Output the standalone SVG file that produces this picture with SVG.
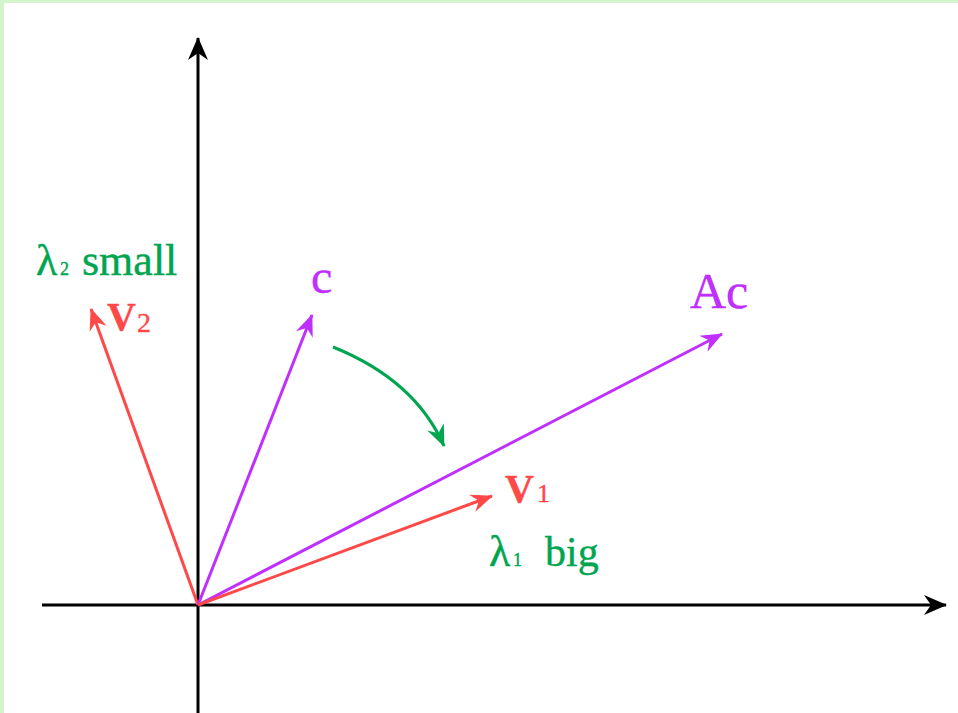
<svg xmlns="http://www.w3.org/2000/svg" width="958" height="713" viewBox="0 0 958 713">
<style>
.ax{stroke:#000;stroke-width:3;fill:none}
.red{stroke:#ff4848;stroke-width:3;fill:none}
.pur{stroke:#bf30ff;stroke-width:3;fill:none}
.grn{stroke:#00a550;stroke-width:3;fill:none}
.t{font-family:"Liberation Serif","Times New Roman",serif;stroke-width:0.4}
</style>
<defs>
<marker id="mk" viewBox="-24 -11 26 22" refX="0" refY="0" markerWidth="26" markerHeight="22" markerUnits="userSpaceOnUse" orient="auto"><path d="M1,0 L-22,-10 L-15,0 L-22,10 Z" fill="#000"/></marker>
<marker id="mr" viewBox="-24 -11 26 22" refX="0" refY="0" markerWidth="26" markerHeight="22" markerUnits="userSpaceOnUse" orient="auto"><path d="M1,0 L-21,-9 L-14,0 L-21,9 Z" fill="#ff4848"/></marker>
<marker id="mp" viewBox="-24 -11 26 22" refX="0" refY="0" markerWidth="26" markerHeight="22" markerUnits="userSpaceOnUse" orient="auto"><path d="M1,0 L-21,-9 L-14,0 L-21,9 Z" fill="#bf30ff"/></marker>
<marker id="mg" viewBox="-24 -11 26 22" refX="0" refY="0" markerWidth="26" markerHeight="22" markerUnits="userSpaceOnUse" orient="auto"><path d="M1,0 L-21,-9 L-14,0 L-21,9 Z" fill="#00a550"/></marker>
</defs>
<rect x="0" y="0" width="958" height="713" fill="#d4f4cc"/>
<rect x="4" y="3" width="954" height="710" fill="#fff"/>
<g id="connectors">
<line class="ax" x1="42" y1="605" x2="946" y2="605" marker-end="url(#mk)"/>
<line class="ax" x1="198" y1="713" x2="198" y2="38" marker-end="url(#mk)"/>
<line class="red" x1="198" y1="605" x2="91" y2="309" marker-end="url(#mr)"/>
<line class="pur" x1="198" y1="605" x2="312" y2="315" marker-end="url(#mp)"/>
<line class="pur" x1="198" y1="605" x2="722" y2="334" marker-end="url(#mp)"/>
<line class="red" x1="198" y1="605" x2="492" y2="496" marker-end="url(#mr)"/>
<path class="grn" d="M333,347 Q415,380 444,446" marker-end="url(#mg)"/>
</g>
<g id="label-lambda2" class="t" fill="#00a550" stroke="#00a550"><text x="36" y="275" font-size="44">λ</text><text x="60" y="275" font-size="18">2</text><text x="82" y="275" font-size="44">small</text></g>
<g id="label-v2" class="t" fill="#ff4848" stroke="#ff4848"><text x="107" y="330" font-size="40" font-weight="bold">V</text><text x="137" y="332" font-size="28">2</text></g>
<g id="label-c" class="t" fill="#bf30ff" stroke="#bf30ff"><text x="311" y="293" font-size="48">c</text></g>
<g id="label-ac" class="t" fill="#bf30ff" stroke="#bf30ff"><text x="690" y="308" font-size="50">Ac</text></g>
<g id="label-v1" class="t" fill="#ff4848" stroke="#ff4848"><text x="505" y="502" font-size="40" font-weight="bold">V</text><text x="537" y="502" font-size="26">1</text></g>
<g id="label-lambda1" class="t" fill="#00a550" stroke="#00a550"><text x="489" y="566" font-size="44">λ</text><text x="513" y="566" font-size="18">1</text><text x="545" y="566" font-size="42">big</text></g>
</svg>
